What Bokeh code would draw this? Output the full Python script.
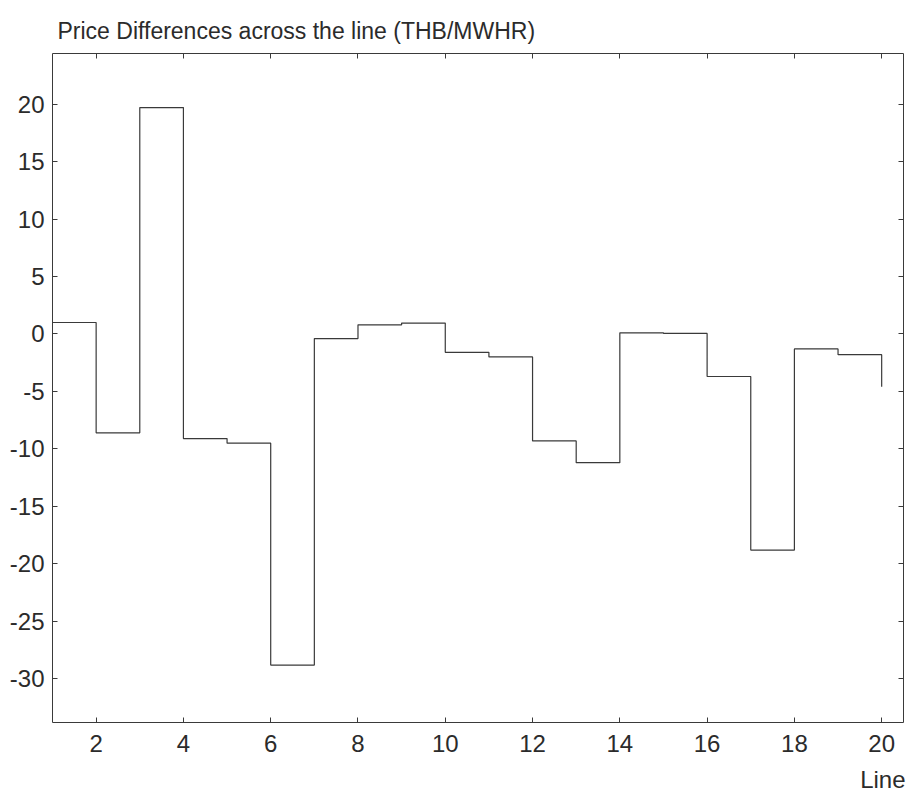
from bokeh.plotting import figure
from bokeh.models import LinearAxis, FixedTicker, Range1d, Title
from bokeh.embed import file_html
from bokeh.resources import INLINE

# Price difference across each transmission line (THB/MWHR)
lines = list(range(1, 21))
price_diff = [1.0, -8.6, 19.7, -9.1, -9.5, -28.8, -0.4, 0.8, 0.95, -1.6,
              -2.0, -9.3, -11.2, 0.1, 0.05, -3.7, -18.8, -1.3, -1.8, -4.6]

x_ticks = [2, 4, 6, 8, 10, 12, 14, 16, 18, 20]
y_ticks = [-30, -25, -20, -15, -10, -5, 0, 5, 10, 15, 20]

FONT = "Liberation Sans"
INK = "#2b2b2b"
LINE = "#3a3a3a"

p = figure(width=911, height=803, output_backend="svg", toolbar_location=None,
           x_range=Range1d(1, 20.5), y_range=Range1d(-33.8, 24.4),
           x_axis_type=None, y_axis_type=None,
           min_border_left=52, min_border_right=8,
           min_border_top=53, min_border_bottom=81)

p.title.text = "Price Differences across the line (THB/MWHR)"
p.title.align = "left"
p.title.offset = 5
p.title.text_font = FONT
p.title.text_font_size = "23px"
p.title.text_font_style = "normal"
p.title.text_color = INK
p.title.standoff = 16
p.title.vertical_align = "top"

p.background_fill_color = "white"
p.border_fill_color = "white"
p.outline_line_color = LINE
p.outline_line_width = 1

# labelled axes, with plain hyphen minus signs
bottom = LinearAxis(ticker=FixedTicker(ticks=x_ticks))
left = LinearAxis(ticker=FixedTicker(ticks=y_ticks),
                  major_label_overrides={t: str(t) for t in y_ticks})
# mirrored tick marks on the top and right edges of the box
top = LinearAxis(ticker=FixedTicker(ticks=x_ticks),
                 major_label_overrides={t: "" for t in x_ticks})
right = LinearAxis(ticker=FixedTicker(ticks=y_ticks),
                   major_label_overrides={t: "" for t in y_ticks})

for ax in [bottom, left, top, right]:
    ax.axis_line_color = None
    ax.major_tick_in = 5
    ax.major_tick_out = 0
    ax.major_tick_line_color = LINE
    ax.minor_tick_line_color = None
    ax.major_label_text_font = FONT
    ax.major_label_text_color = INK
    ax.major_label_text_font_size = "24px"

# the mirrored axes carry no labels, so keep them thin
top.major_label_text_font_size = "1px"
right.major_label_text_font_size = "1px"

bottom.major_label_standoff = 12
left.major_label_standoff = 8
top.major_label_standoff = 0
right.major_label_standoff = 0

p.add_layout(bottom, "below")
p.add_layout(left, "left")
p.add_layout(top, "above")
p.add_layout(right, "right")

p.add_layout(Title(text="Line", align="right", text_font=FONT,
                   text_font_size="24px", text_font_style="normal",
                   text_color=INK, offset=-2, standoff=18), "below")

p.step(lines, price_diff, mode="after", line_color=LINE, line_width=1.2)

open("out.html", "w").write(file_html(p, INLINE))
